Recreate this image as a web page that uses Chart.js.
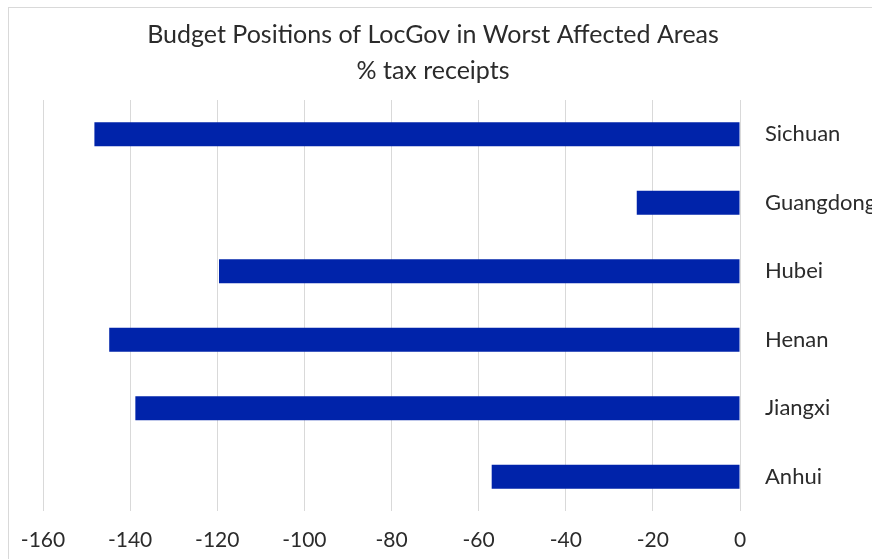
<!DOCTYPE html>
<html>
<head>
	<title>Budget Positions of LocGov in Worst Affected Areas</title>
	<meta charset="utf-8" />
	<script src="https://cdn.jsdelivr.net/npm/chart.js@4/dist/chart.umd.min.js"></script>
	<style>
		body { margin: 0; overflow: hidden; background: #fff; }
		#frame { position: absolute; left: 8px; top: 7px; width: 900px; height: 600px; border: 1px solid #d9d9d9; }
	</style>
</head>
<body>

<!-- Chart frame -->
<div id="frame">
	<canvas id="myChart"></canvas>
</div>

<script type="text/javascript">
// data
var provinces = ['Sichuan', 'Guangdong', 'Hubei', 'Henan', 'Jiangxi', 'Anhui'];
var budget = [-148.2, -23.7, -119.6, -144.8, -138.8, -57.0];
var titleLines = ['Budget Positions of LocGov in Worst Affected Areas', '% tax receipts'];
var xMin = -160, xMax = 0, xStep = 20;

var fontFamily = "Lato, 'Liberation Sans', sans-serif";
var textColor = '#2b2b2b';

// title is centred a bit left of the canvas middle (frame is cropped on the right)
var titleShift = {
	id: 'titleShift',
	afterLayout: function (chart) {
		if (chart.titleBlock) {
			chart.titleBlock.left = 34;
			chart.titleBlock.right = 814;
		}
	}
};

var ctx = document.getElementById('myChart').getContext('2d');
var chart = new Chart(ctx, {
	type: 'bar',
	data: {
		labels: provinces,
		datasets: [{
			label: 'Budget position',
			data: budget,
			backgroundColor: '#0023aa',
			borderWidth: 0,
			barPercentage: 0.35,
			categoryPercentage: 1
		}]
	},
	options: {
		indexAxis: 'y',
		responsive: true,
		maintainAspectRatio: false,
		animation: false,
		layout: {
			padding: { left: 34, right: 0, top: 0, bottom: 56 }
		},
		plugins: {
			legend: { display: false },
			tooltip: { enabled: false },
			title: {
				display: true,
				text: titleLines,
				color: textColor,
				font: { family: fontFamily, size: 25, weight: 'normal', lineHeight: 1.44 },
				padding: { top: 9, bottom: 11 }
			}
		},
		scales: {
			x: {
				min: xMin,
				max: xMax,
				grid: { color: '#d9d9d9', lineWidth: 1, drawTicks: false },
				border: { display: false },
				ticks: {
					stepSize: xStep,
					padding: 17,
					color: textColor,
					font: { family: fontFamily, size: 21 }
				},
				afterFit: function (scale) {
					scale.height = 41;
					scale.paddingLeft = 0;
					scale.paddingRight = 0;
				}
			},
			y: {
				position: 'right',
				grid: { display: false, drawTicks: false },
				border: { display: false },
				ticks: {
					padding: 25,
					color: textColor,
					font: { family: fontFamily, size: 22 }
				},
				afterFit: function (scale) {
					scale.width = 169;
				}
			}
		}
	},
	plugins: [titleShift]
});
</script>
</body>
</html>
